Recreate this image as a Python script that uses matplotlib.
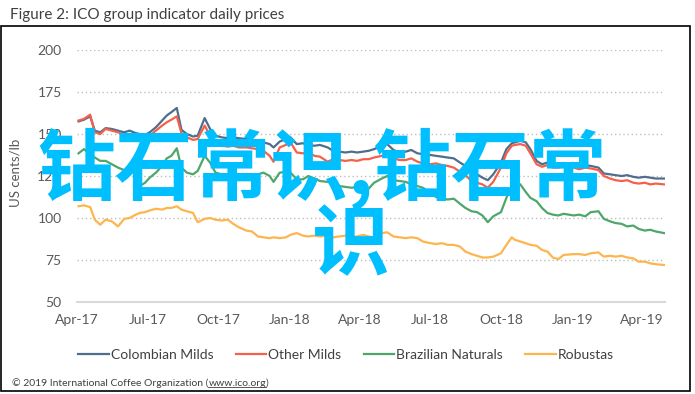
import matplotlib
matplotlib.use("Agg")
import matplotlib.pyplot as plt
import matplotlib.dates as mdates
from matplotlib.patches import Rectangle
from matplotlib.lines import Line2D
import pandas as pd

plt.rcParams['font.family'] = ['Lato', 'DejaVu Sans']

# values (US cents/lb)
dates = [
    "2017-04-03", "2017-04-10", "2017-04-18", "2017-04-24", "2017-05-01", "2017-05-08",
    "2017-05-16", "2017-05-24", "2017-06-01", "2017-06-08", "2017-06-16", "2017-06-21",
    "2017-06-28", "2017-07-04", "2017-07-12", "2017-07-20", "2017-07-26", "2017-08-01",
    "2017-08-08", "2017-08-14", "2017-08-21", "2017-08-29", "2017-09-04", "2017-09-13",
    "2017-09-20", "2017-09-27", "2017-10-05", "2017-10-13", "2017-10-20", "2017-10-27",
    "2017-11-06", "2017-11-13", "2017-11-21", "2017-11-28", "2017-12-06", "2017-12-11",
    "2017-12-19", "2017-12-27", "2018-01-02", "2018-01-10", "2018-01-18", "2018-01-25",
    "2018-02-02", "2018-02-09", "2018-02-19", "2018-02-26", "2018-03-06", "2018-03-14",
    "2018-03-22", "2018-03-29", "2018-04-06", "2018-04-13", "2018-04-20", "2018-04-30",
    "2018-05-07", "2018-05-15", "2018-05-23", "2018-05-31", "2018-06-07", "2018-06-15",
    "2018-06-22", "2018-07-02", "2018-07-09", "2018-07-17", "2018-07-24", "2018-08-01",
    "2018-08-09", "2018-08-16", "2018-08-24", "2018-08-31", "2018-09-07", "2018-09-14",
    "2018-09-21", "2018-10-01", "2018-10-08", "2018-10-15", "2018-10-19", "2018-10-26",
    "2018-11-02", "2018-11-08", "2018-11-16", "2018-11-23", "2018-11-30", "2018-12-07",
    "2018-12-14", "2018-12-21", "2019-01-03", "2019-01-10", "2019-01-18", "2019-01-25",
    "2019-02-04", "2019-02-11", "2019-02-19", "2019-02-26", "2019-03-06", "2019-03-13",
    "2019-03-21", "2019-03-28", "2019-04-05", "2019-04-12", "2019-04-19", "2019-04-30",
]
colombian = [
    157.5, 158.5, 160.5, 152, 151, 153.5, 153, 152, 151, 152, 150.5, 150,
    149.5, 151, 154, 158, 161, 163, 165.5, 152.5, 150, 148.5, 149, 159.5,
    153, 149, 148, 147.5, 148, 147.5, 147, 146.5, 146, 145, 144, 142,
    145.5, 147, 148, 144, 144.5, 143.5, 143, 143.5, 142, 140, 139.5, 139,
    139.5, 139, 139.5, 140, 141, 143, 144, 140.5, 139, 139.5, 140.5, 138.5,
    138, 137.5, 137, 136.5, 136, 135.5, 133, 131, 127, 126, 124, 122.5,
    126, 133, 141, 144.5, 145, 146, 145, 141, 134, 132, 133, 132,
    131.5, 132, 131, 130.5, 131.5, 131, 130, 126.5, 126, 125.5, 125, 125.5,
    124.5, 124, 124.5, 124, 123.5, 123.5,
]
other_milds = [
    158, 159, 161.5, 151, 150, 153, 152, 151, 149.5, 150, 148.5, 148.5,
    148, 149, 152, 155, 157, 158.5, 160.5, 150.5, 148, 146.5, 147, 155,
    149, 145, 143, 142.5, 143, 142, 142, 141.5, 141, 140, 137, 133.5,
    142, 143.5, 145, 139, 138.5, 139, 137, 136.5, 133.5, 135, 134.5, 134,
    134.5, 134, 135, 135, 136, 137, 137.5, 135.5, 134.5, 134.5, 135.5, 133.5,
    132.5, 132, 132.5, 131.5, 131, 130, 127.5, 125.5, 122, 121, 120, 118,
    121.5, 130, 138.5, 143, 143.5, 144, 143, 138.5, 132, 130.5, 131.5, 130,
    130, 130.5, 130, 129, 130, 129.5, 128.5, 125, 123.5, 122.5, 122, 122.5,
    121, 120.5, 121, 120, 120.5, 120,
]
brazilian = [
    138.5, 141, 138, 136, 134, 134, 132, 130, 128.5, 129, 126, 119,
    121, 124, 127, 131, 135.5, 137, 141.5, 130, 127, 126, 128, 137,
    133, 127, 126, 125.5, 126.5, 125, 125.5, 125, 126, 127, 125, 121.5,
    127, 127.5, 127, 123, 123, 125, 123.5, 122, 121.5, 120.5, 119, 118.5,
    118, 118.5, 118, 117.5, 121, 123.5, 125, 122.5, 122, 121.5, 120, 119,
    118, 115, 112.5, 112, 111, 111.5, 108.5, 106, 104, 103.5, 101.5, 97.5,
    101, 103.5, 112, 118.5, 121.5, 120, 115.5, 112, 110, 106, 103, 102,
    101.5, 102.5, 101.5, 102, 101, 103.5, 104, 99.5, 98, 97, 96.5, 95,
    95.5, 93.5, 92.5, 93, 92, 91,
]
robustas = [
    107, 107.5, 106.5, 99, 96, 99, 98, 95, 99.5, 100, 102, 103,
    103.5, 104.5, 105.5, 105, 106, 106, 107, 105, 104, 103, 97.5, 99.5,
    100, 99, 98.5, 99, 96.5, 94.5, 92.5, 92, 89, 88.5, 88, 88.5,
    88, 88.5, 90, 91, 89.5, 89, 89.5, 89, 89.5, 88.5, 89, 89.5,
    89, 89, 90, 89, 88.5, 91, 91.5, 89, 88.5, 88, 88.5, 88,
    86, 85, 84.5, 85, 84, 84, 83, 80, 78.5, 77.5, 76.5, 76.5,
    77, 79, 84, 88.5, 87, 86, 85, 84, 83.5, 81, 80, 76.5,
    75.5, 78, 78.5, 78.5, 78, 79, 79.5, 77, 77.5, 77, 77.5, 76.5,
    76, 74, 74, 73, 72.5, 72,
]

series_names = ["Colombian Milds", "Other Milds", "Brazilian Naturals", "Robustas"]
series_colors = ["#4F6E8C", "#F4604A", "#4FA66A", "#FDB54E"]
y_ticks = [50, 75, 100, 125, 150, 175, 200]
x_ticks = ["2017-04-01", "2017-07-01", "2017-10-01", "2018-01-01", "2018-04-01",
           "2018-07-01", "2018-10-01", "2019-01-01", "2019-04-01"]

df = pd.DataFrame({
    "date": pd.to_datetime(dates),
    "Colombian Milds": colombian,
    "Other Milds": other_milds,
    "Brazilian Naturals": brazilian,
    "Robustas": robustas,
})

W, H = 695, 394
fig = plt.figure(figsize=(W / 100, H / 100), dpi=100)
ax = fig.add_axes([77 / W, 1 - 302 / H, 588 / W, 252 / H])

for name, col in zip(series_names, series_colors):
    ax.plot(df["date"], df[name], color=col, linewidth=1.6, label=name)

ax.set_ylim(50, 200)
ax.set_xlim(pd.Timestamp("2017-04-01"), pd.Timestamp("2019-05-01"))
ax.set_yticks(y_ticks)
ax.set_xticks(pd.to_datetime(x_ticks))
ax.xaxis.set_major_formatter(mdates.DateFormatter("%b-%y"))
ax.tick_params(length=0, labelsize=10, colors="#595959")
ax.tick_params(axis="y", pad=11)
ax.tick_params(axis="x", pad=9)
for s in ax.spines.values():
    s.set_visible(False)
for v in y_ticks[1:]:
    ax.axhline(v, color="#BFBFBF", linestyle=(0, (1, 2)), linewidth=1, zorder=0)
ax.axhline(50, color="#D9D9D9", linewidth=1.5, zorder=0, clip_on=False)

fig.text(10 / W, 1 - 15 / H, "Figure 2: ICO group indicator daily prices",
         fontsize=11, color="#404040", va="center", ha="left")
fig.text(15 / W, 1 - 173 / H, "US cents/lb", rotation=90, fontsize=9.5,
         color="#595959", va="center", ha="center")

fig.legend(loc="center", bbox_to_anchor=(346 / W, 1 - 355 / H), ncol=4,
           frameon=False, fontsize=10, handlelength=2.2, handletextpad=0.15,
           columnspacing=1.6, labelcolor="#404040")

# footer with underlined link
foot = fig.text(12 / W, 1 - 383 / H, "\u00a9 2019 International Coffee Organization (",
                fontsize=7.5, color="#404040", va="center", ha="left")
fig.canvas.draw()
bb = foot.get_window_extent()
url = fig.text(bb.x1 / W, 1 - 383 / H, "www.ico.org", fontsize=7.5,
               color="#404040", va="center", ha="left")
fig.canvas.draw()
ub = url.get_window_extent()
fig.text(ub.x1 / W, 1 - 383 / H, ")", fontsize=7.5, color="#404040",
         va="center", ha="left")
fig.add_artist(Line2D([ub.x0 / W, ub.x1 / W], [(ub.y0 + 0.5) / H] * 2,
                      transform=fig.transFigure, color="#404040", linewidth=0.6))

# chart frame
fig.add_artist(Rectangle((1 / W, 1 - 391 / H), 689 / W, 365 / H,
                         transform=fig.transFigure, fill=False,
                         edgecolor="black", linewidth=1.2))

# overlay text
fig.text(322 / W, 1 - 169 / H, "钻石常识,钻石常", fontsize=56, color="#00BFFF",
         family=["Noto Sans CJK SC", "DejaVu Sans"], fontweight="bold",
         ha="center", va="center", zorder=10)
fig.text(351 / W, 1 - 246 / H, "识", fontsize=56, color="#00BFFF",
         family=["Noto Sans CJK SC", "DejaVu Sans"], fontweight="bold",
         ha="center", va="center", zorder=10)

fig.savefig("out.png", dpi=100)
